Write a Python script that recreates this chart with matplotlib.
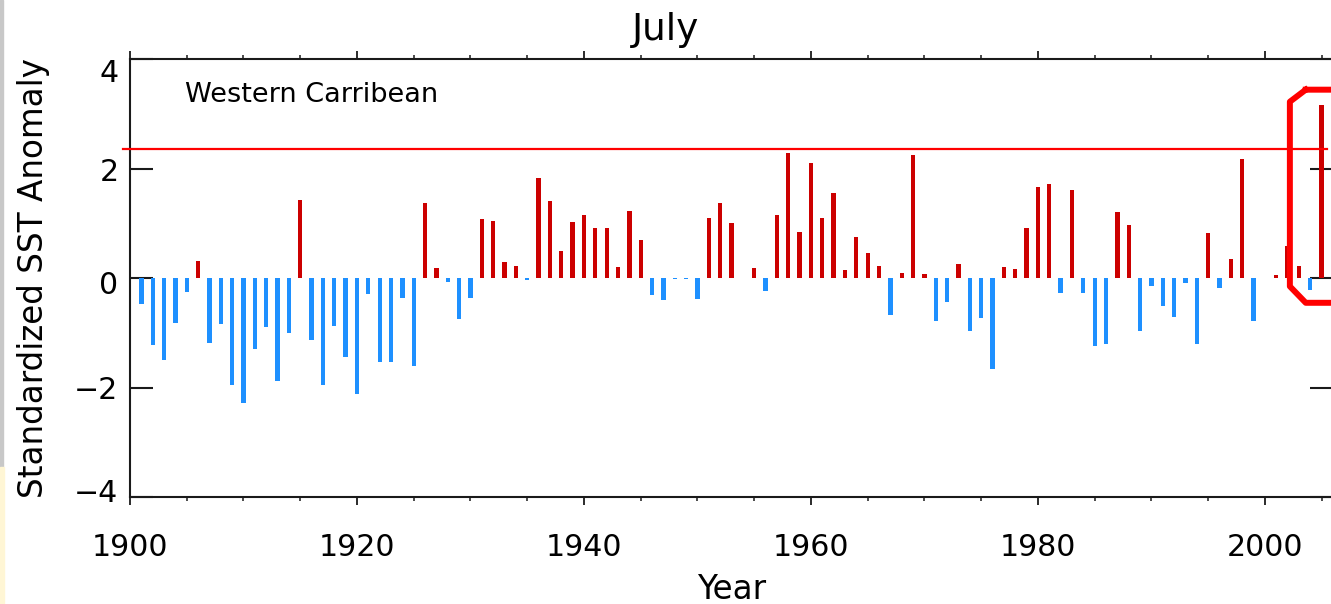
import matplotlib
matplotlib.use("Agg")
import matplotlib.pyplot as plt
import matplotlib.transforms as mtransforms
from matplotlib.patches import Rectangle
from matplotlib.ticker import MultipleLocator

# ---------------- data ----------------
years = list(range(1901, 2006))
anomaly = [
    -0.47, -1.22, -1.49, -0.81, -0.26, 0.32, -1.19, -0.83, -1.95, -2.27,   # 1901-1910
    -1.29, -0.89, -1.87, -1.00, 1.43, -1.12, -1.95, -0.88, -1.44, -2.12,   # 1911-1920
    -0.29, -1.53, -1.53, -0.37, -1.61, 1.37, 0.18, -0.07, -0.74, -0.36,    # 1921-1930
    1.08, 1.04, 0.30, 0.22, -0.03, 1.82, 1.40, 0.49, 1.03, 1.16,           # 1931-1940
    0.91, 0.91, 0.20, 1.23, 0.69, -0.30, -0.40, -0.02, -0.02, -0.38,       # 1941-1950
    1.09, 1.37, 1.00, 0.00, 0.18, -0.24, 1.16, 2.29, 0.85, 2.11,           # 1951-1960
    1.09, 1.55, 0.14, 0.76, 0.46, 0.23, -0.67, 0.10, 2.25, 0.08,           # 1961-1970
    -0.78, -0.44, 0.26, -0.97, -0.73, -1.65, 0.21, 0.16, 0.92, 1.67,       # 1971-1980
    1.72, -0.27, 1.61, -0.27, -1.23, -1.20, 1.20, 0.97, -0.97, -0.14,      # 1981-1990
    -0.50, -0.70, -0.09, -1.20, 0.82, -0.18, 0.35, 2.18, -0.79, 0.00,      # 1991-2000
    0.06, 0.58, 0.22, -0.21, 3.16,                                          # 2001-2005
]
threshold = 2.36
title = "July"
region = "Western Carribean"
xlabel = "Year"
ylabel = "Standardized SST Anomaly"
xticks = [1900, 1920, 1940, 1960, 1980, 2000]
yticks = [-4, -2, 0, 2, 4]
ytick_labels = ["\u22124", "\u22122", "0", "2", "4"]
# highlight outline (octagon around last years)
hl_x = [2003.6, 2002.2, 2002.2, 2003.6, 2006.4, 2007.8, 2007.8, 2006.4, 2003.6]
hl_y = [3.44, 3.22, -0.15, -0.45, -0.45, -0.15, 3.22, 3.44, 3.44]

RED = "#CC0000"
BLUE = "#1E90FF"

plt.rcParams["font.family"] = ["DejaVu Sans"]

W, H = 1331, 604
fig = plt.figure(figsize=(W / 100, H / 100), dpi=100)
ax = fig.add_axes([130 / W, (H - 497.3) / H, 1203 / W, 438.3 / H])

colors = [RED if v > 0 else BLUE for v in anomaly]
ax.bar(years, anomaly, width=0.38, color=colors, linewidth=0, zorder=2)

ax.plot([1899.4, 2005.5], [threshold, threshold], color="#FF0000", lw=1.6,
        clip_on=False, zorder=3)
ax.plot(hl_x, hl_y, color="#FF0000", lw=4.3, clip_on=False, zorder=4,
        solid_joinstyle="round")

ax.set_xlim(1900, 2006)
ax.set_ylim(-4, 4)
ax.set_xticks(xticks)
ax.xaxis.set_minor_locator(MultipleLocator(5))
ax.set_yticks(yticks)
ax.set_yticklabels(ytick_labels)

for s in ax.spines.values():
    s.set_linewidth(1.5)
    s.set_color("#1a1a1a")

ax.tick_params(axis="x", which="major", direction="out", length=5.5, width=1.3,
               top=True, bottom=True, labelsize=21.6, pad=20, color="#1a1a1a")
ax.tick_params(axis="x", which="minor", direction="out", length=2.8, width=1.1,
               top=True, bottom=True, color="#1a1a1a")
ax.tick_params(axis="y", which="major", direction="in", length=16.5, width=1.5,
               left=True, right=True, labelsize=21.6, pad=8.3, color="#1a1a1a")

# IDL-style vertical offsets of y tick labels (pixels, positive = up)
shifts = {4: -11, 2: -1, 0: -4, -2: 0, -4: 7}
for val, lab in zip(yticks, ax.get_yticklabels()):
    lab.set_transform(lab.get_transform() +
                      mtransforms.ScaledTranslation(0, shifts[val] / 100, fig.dpi_scale_trans))

ax.set_xlabel(xlabel, fontsize=23.5, labelpad=7.8)
ax.set_ylabel(ylabel, fontsize=23.5, va="center")
ax.yaxis.set_label_coords((33 - 130) / 1203, 0.5)

ax.text(0.5, (H - 40) / H, title, transform=fig.transFigure, ha="center",
        va="baseline", fontsize=27)
ax.text((185 - 130) / 1203, 0.918, region, transform=ax.transAxes,
        ha="left", va="center", fontsize=19.5)

# screenshot edge strips
fig.patches.append(Rectangle((0, (H - 467) / H), 3 / W, 467 / H, transform=fig.transFigure,
                             color="#C8C8C8", zorder=0))
fig.patches.append(Rectangle((0, 0), 4 / W, (H - 467) / H, transform=fig.transFigure,
                             color="#FFF6D5", zorder=0))

fig.savefig("out.png", dpi=100)
